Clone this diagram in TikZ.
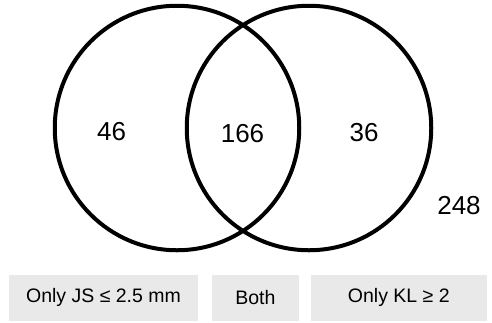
\documentclass[tikz,border=0pt]{standalone}
\usepackage{fontspec}
\setmainfont{Liberation Sans}
\usetikzlibrary{positioning}
\definecolor{panel}{RGB}{233,233,233}

\begin{document}
\begin{tikzpicture}[x=1pt,y=-1pt]
    \useasboundingbox (0,0) rectangle (492,322);
    \node[circle,draw,line width=4pt,minimum size=244.5pt,inner sep=0pt] (js) at (177,128) {};
    \node[circle,draw,line width=4pt,minimum size=244.5pt,inner sep=0pt] (kl) at (309,128) {};
    \foreach \n/\x/\y [count=\i] in {46/111.7/131.7,166/242.5/134,36/364/133,248/459/205.5}
    {
      \node[font=\fontsize{26}{31}\selectfont,inner sep=0pt] (n\i) at (\x,\y) {\n};
    }
    \foreach \t/\a/\b [count=\i] in {Only JS ≤ 2.5 mm/9/198,Both/211.7/299,Only KL ≥ 2/310.7/487}
    {
      \pgfmathsetmacro{\w}{\b-\a}
      \pgfmathsetmacro{\m}{(\a+\b)/2}
      \node[fill=panel,minimum width=\w pt,minimum height=45.5pt,inner sep=0pt,font=\fontsize{19.5}{23}\selectfont] (b\i) at (\m,297.75) {\t};
    }
\end{tikzpicture}
\end{document}
